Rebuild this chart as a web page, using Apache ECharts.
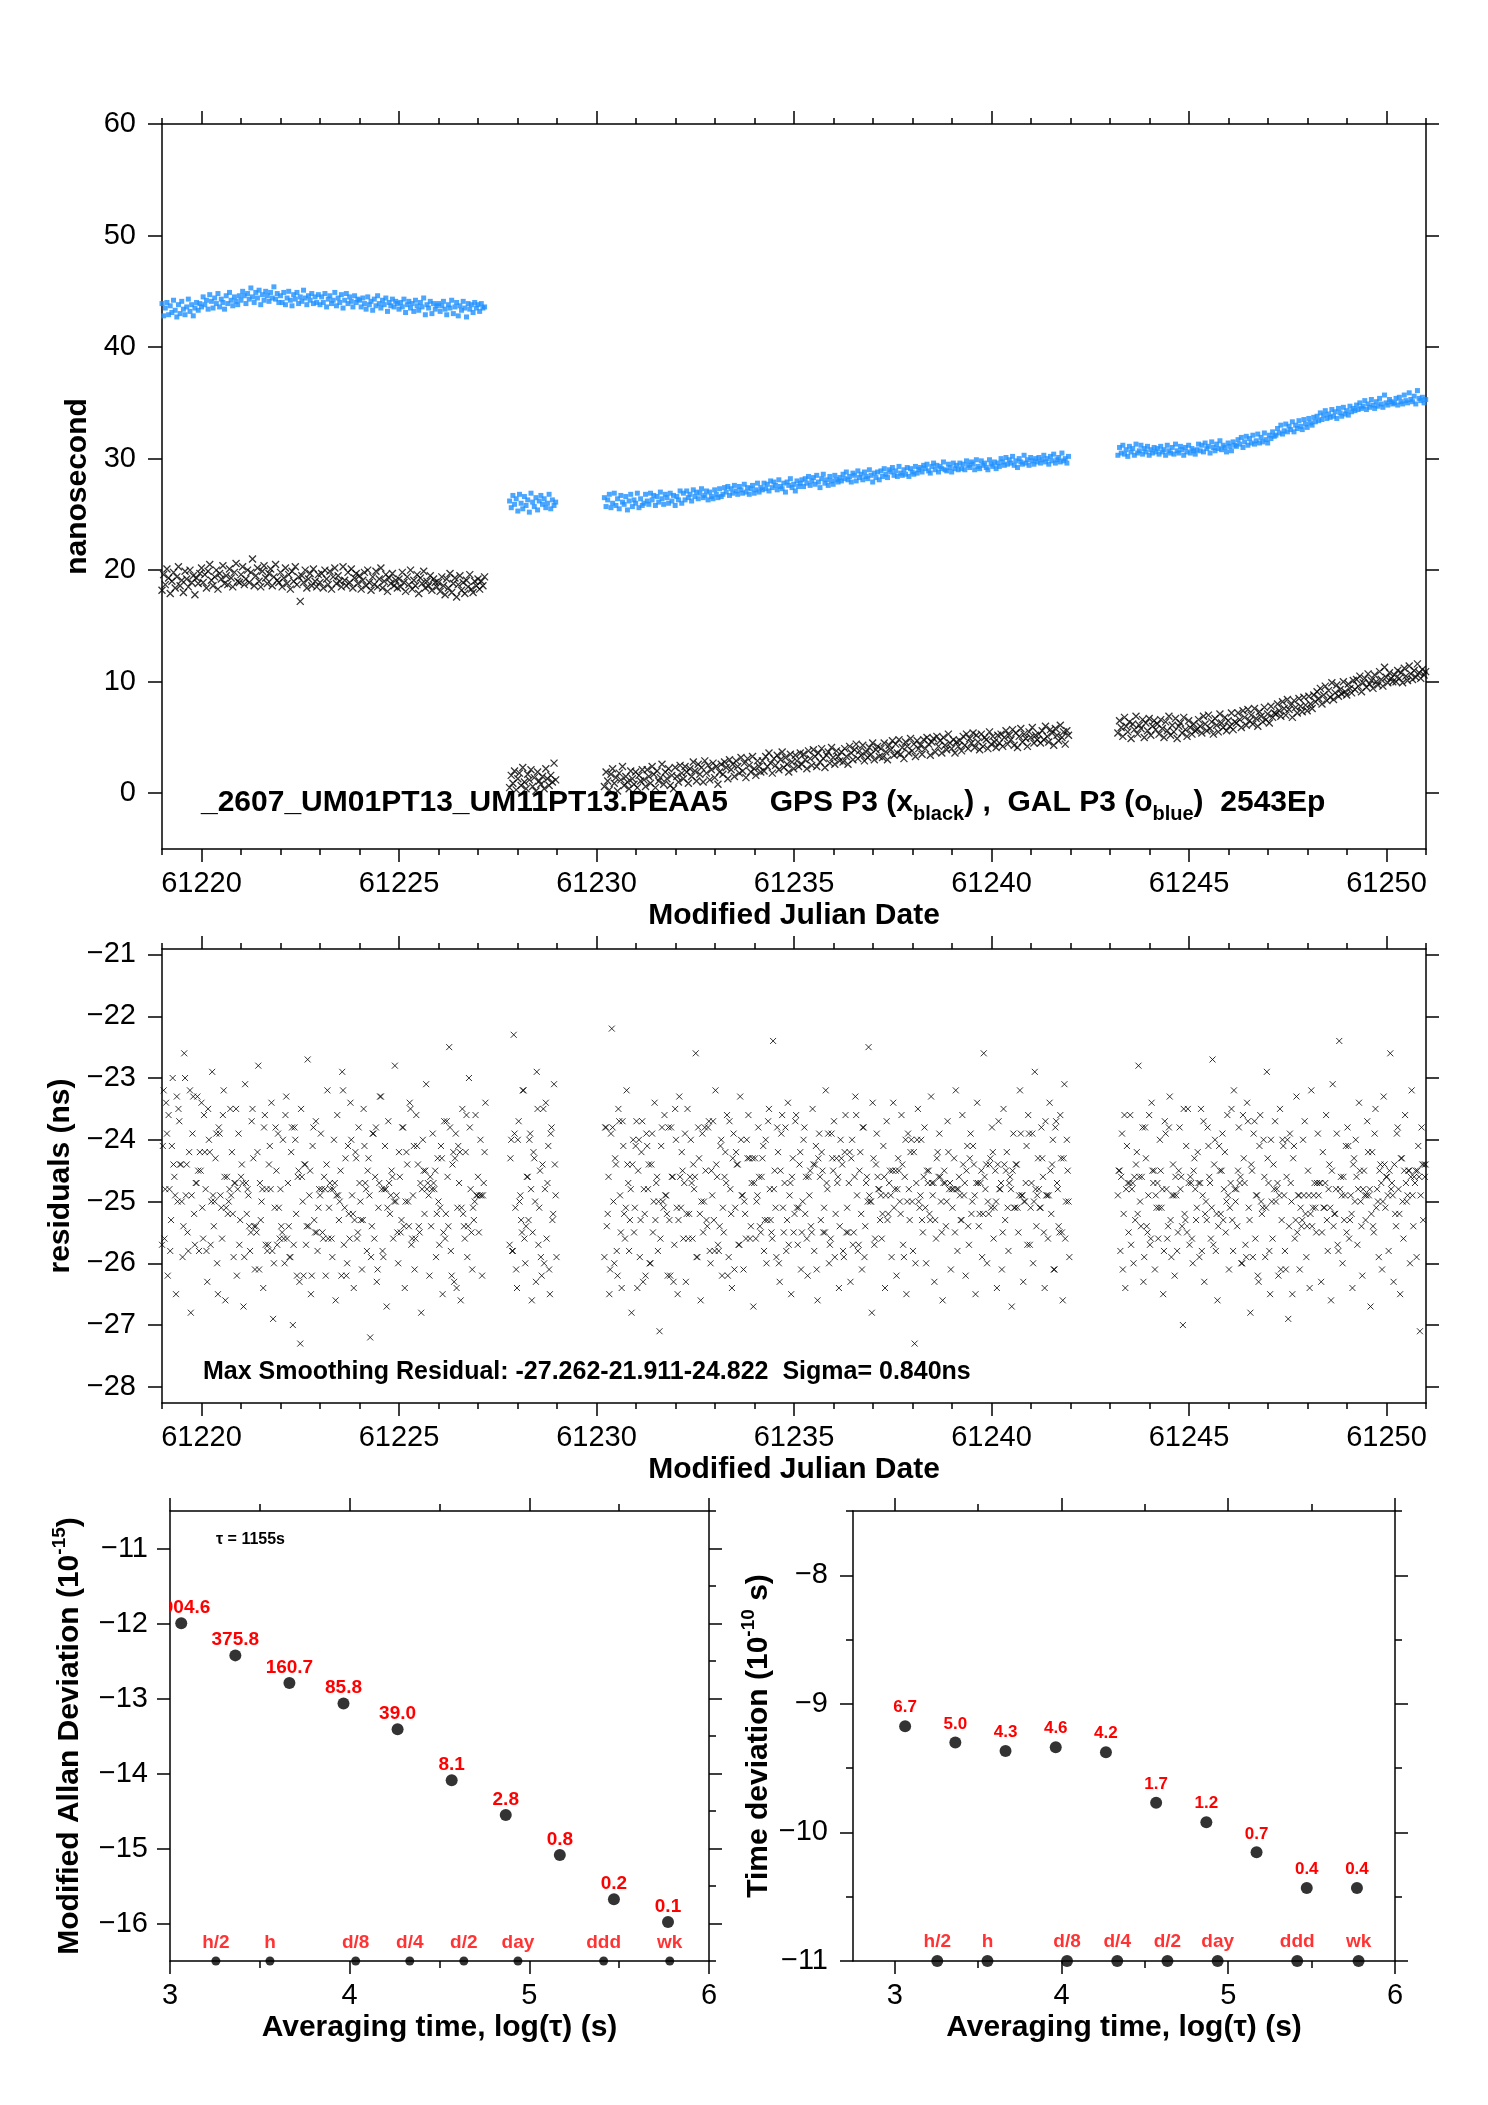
<!DOCTYPE html>
<html>
<head>
<meta charset="utf-8">
<title>GPS P3 / GAL P3 2543Ep</title>
<script src="https://cdn.jsdelivr.net/npm/echarts@6.0.0/dist/echarts.min.js"></script>
<style>
  html, body { margin: 0; padding: 0; background: #fff; }
  #main { width: 1488px; height: 2105px; }
</style>
</head>
<body>
<div id="main"></div>
<script>
// one epoch per hour inside each tracking segment
var STEP = 1 / 24;
var segStart = [61219.0, 61227.8, 61230.2, 61243.2];

// GPS P3 (x black), nanosecond
var gpsSeg1 = [
  18.2,19.6,18.7,20.1,19.3,17.9,19.0,19.8,18.4,19.4,20.3,18.6,19.1,18.0,19.9,19.2,18.5,20.0,18.9,19.5,17.8,19.3,18.8,19.7,
  20.2,18.9,19.6,18.4,19.9,20.5,19.1,18.6,19.4,20.0,18.3,19.7,19.2,20.4,18.8,19.5,18.7,20.1,19.3,18.5,19.8,20.6,19.0,18.9,
  19.6,20.3,18.7,19.2,20.0,18.9,19.8,21.0,18.6,19.5,20.2,19.0,18.5,19.9,20.4,19.3,18.8,19.7,20.1,18.6,19.4,20.5,19.1,18.9,
  19.8,18.5,19.3,20.2,18.8,19.6,18.3,19.9,19.0,20.3,18.7,19.4,17.2,19.5,18.9,20.0,18.4,19.2,19.7,18.6,20.1,19.0,18.5,19.6,
  18.9,19.7,18.4,20.0,19.2,18.7,19.9,18.3,19.4,20.2,18.8,19.5,19.0,18.5,20.3,19.1,18.6,19.8,18.9,20.1,18.4,19.3,19.7,18.8,
  19.5,18.3,19.1,19.8,18.6,20.0,18.9,18.2,19.4,18.7,19.9,18.5,19.2,20.2,18.4,19.0,19.6,18.1,19.3,18.8,19.7,18.6,19.1,18.4,
  19.2,18.5,19.8,18.9,18.1,19.4,18.7,20.0,18.3,19.1,18.6,19.6,17.9,19.3,18.8,19.9,18.4,19.0,18.6,19.5,18.2,19.2,18.9,18.5,
  18.9,18.1,19.4,18.6,17.8,19.2,18.4,19.7,18.0,18.8,19.3,17.6,18.7,19.5,18.2,18.9,17.9,19.1,18.5,19.6,18.3,18.0,19.0,18.6,
  19.2,18.3,19.0,18.6,19.4
];
var gpsSeg2 = [
  0.5,1.6,0.9,2.0,0.3,1.3,1.8,0.7,2.3,1.0,0.4,1.7,1.2,2.1,0.6,1.4,0.2,1.9,1.1,0.8,1.5,0.4,2.2,1.3,0.7,1.6,1.0,2.7,1.2
];
var gpsSeg3 = [
  0.6,1.9,1.1,0.3,1.7,2.2,0.9,1.4,0.2,1.8,1.2,2.4,0.7,1.5,1.0,0.4,2.0,1.3,0.8,1.9,0.5,1.6,1.1,2.1,
  1.2,0.6,2.1,1.5,0.9,2.4,1.7,0.5,2.0,1.1,1.4,2.6,0.8,1.9,1.3,2.2,0.7,1.6,0.4,2.3,1.5,1.0,2.5,1.8,
  1.3,2.4,1.9,0.9,2.2,1.5,2.8,2.0,1.1,2.6,1.7,2.3,1.0,2.9,1.8,2.5,1.2,2.1,2.7,1.4,2.4,0.8,1.9,2.6,
  1.7,2.8,2.3,1.3,3.0,2.1,2.6,1.5,2.9,2.4,1.8,3.2,2.0,2.7,1.4,3.1,2.5,1.9,3.3,2.2,1.6,2.9,2.4,1.9,
  2.9,2.0,3.3,2.4,3.6,2.7,1.8,3.1,2.5,3.4,2.1,3.0,3.7,2.3,3.2,2.6,1.9,3.5,2.8,2.2,3.4,2.9,2.4,3.6,
  2.6,3.5,3.0,2.2,3.8,3.1,2.5,3.9,3.3,2.4,3.6,2.8,4.0,3.1,2.3,3.4,3.7,2.7,4.1,3.2,2.6,3.8,3.3,2.9,
  3.7,2.8,4.0,3.3,2.6,4.2,3.6,3.0,3.9,4.4,3.1,3.8,3.4,4.3,2.9,3.7,3.2,4.1,3.5,4.5,3.0,3.9,4.2,3.3,
  4.0,3.2,4.5,3.7,3.0,4.3,3.9,4.7,3.4,4.4,3.6,4.8,3.5,4.1,3.1,4.6,4.2,3.6,4.9,3.8,4.4,3.3,4.7,4.0,
  4.3,3.5,4.8,4.0,5.0,4.4,3.4,4.6,4.9,3.7,5.1,4.2,4.7,3.6,5.0,4.3,3.9,5.3,4.5,4.0,4.8,3.6,4.6,4.2,
  4.7,3.8,5.1,4.3,5.3,4.0,4.9,4.5,5.4,4.1,5.2,4.6,3.9,5.3,4.2,5.0,4.8,4.0,5.5,4.4,5.1,4.6,4.1,5.2,
  4.5,5.3,4.2,5.0,5.6,4.4,5.2,4.8,5.7,4.3,5.4,4.1,5.1,5.8,4.6,5.3,4.9,4.2,5.5,5.0,5.9,4.5,5.2,4.8,
  5.3,4.5,5.6,4.8,6.0,5.1,4.6,5.7,5.4,4.3,5.8,5.2,4.7,6.1,5.0,5.5,4.4,5.6,5.2
];
var gpsSeg4 = [
  5.4,6.5,5.9,5.1,6.8,6.0,5.5,6.4,4.9,6.2,5.7,6.9,5.3,6.1,5.8,6.6,5.0,6.3,5.6,6.7,5.2,6.0,6.5,5.7,
  6.2,5.3,6.6,5.8,5.0,6.4,5.6,6.9,5.2,6.1,5.5,6.7,4.9,6.0,6.3,5.4,6.8,5.7,5.1,6.5,5.9,5.3,6.2,5.6,
  5.7,6.6,6.0,5.4,6.9,6.2,5.6,7.0,5.8,6.4,5.3,6.7,6.1,5.5,7.1,6.3,5.9,6.8,5.6,6.5,6.0,7.2,5.7,6.4,
  6.3,7.2,6.6,5.9,7.4,6.8,6.1,7.5,6.5,7.0,6.2,7.6,6.7,6.0,7.3,6.9,6.4,7.7,6.6,7.1,6.3,7.8,6.8,7.2,
  7.1,8.0,7.4,6.9,8.2,7.6,7.0,8.4,7.5,7.9,6.8,8.3,7.7,7.2,8.5,7.8,7.3,8.6,7.9,7.4,8.7,8.0,7.6,8.8,
  8.2,9.1,8.5,9.4,8.0,8.8,9.6,8.3,9.2,8.6,9.9,8.4,9.0,9.7,8.7,9.3,8.9,10.0,9.1,8.8,9.8,9.4,9.0,10.1,
  9.3,10.2,9.6,10.5,9.1,9.9,10.3,9.5,10.7,9.8,10.1,9.4,10.6,10.0,9.7,10.9,10.2,9.6,11.3,10.4,9.9,10.8,10.3,10.0,
  10.6,10.0,11.0,10.3,10.8,9.9,11.2,10.5,10.1,11.4,10.7,10.2,11.0,10.4,11.6,10.8,10.3,11.1,10.6,10.9
];

// GAL P3 (o blue), nanosecond
var galSeg1 = [
  43.9,42.8,43.5,44.0,42.9,43.7,43.1,44.2,43.3,42.7,43.8,43.0,44.1,43.4,42.9,43.6,44.3,43.2,43.8,42.8,43.5,44.0,43.3,43.9,
  43.6,44.5,43.8,44.2,43.4,44.7,44.1,43.5,44.4,43.9,44.8,43.6,44.3,44.0,43.4,44.6,43.9,44.9,44.2,43.7,44.5,44.1,43.8,44.6,
  44.2,45.0,44.6,43.9,44.8,44.3,45.3,44.5,44.0,44.9,44.4,45.1,43.8,44.7,44.2,45.0,44.6,44.1,44.9,44.4,45.4,44.3,44.8,44.0,
  44.6,44.0,44.9,43.8,44.4,45.0,44.2,43.7,44.7,44.3,44.9,43.9,44.5,44.1,45.1,44.4,43.8,44.6,44.2,44.8,43.9,44.5,44.0,44.7,
  43.8,44.5,44.0,44.8,43.6,44.3,44.6,43.9,44.2,44.9,43.7,44.4,44.0,44.7,43.5,44.2,44.8,43.9,44.5,44.1,43.6,44.6,44.0,44.3,
  44.2,43.6,44.4,43.9,43.4,44.5,43.8,44.1,43.3,44.3,43.7,44.6,43.9,43.5,44.2,43.8,44.4,43.2,44.0,43.7,44.3,43.6,44.1,43.9,
  43.4,44.0,43.6,44.3,43.1,43.8,44.1,43.5,43.9,43.2,44.2,43.7,43.3,44.0,43.6,44.4,42.9,43.8,43.5,44.1,43.0,43.9,43.4,43.7,
  43.9,43.2,43.7,44.1,43.4,42.9,43.8,43.5,44.2,43.0,43.6,44.0,42.8,43.7,43.3,44.1,43.5,42.7,43.9,43.4,43.8,43.1,44.0,43.5,
  43.8,43.2,43.9,43.5,43.6
];
var galSeg2 = [
  26.2,25.6,26.7,25.9,26.4,25.3,26.8,26.0,25.5,26.6,25.8,26.3,25.2,26.9,26.1,25.7,26.5,25.4,26.2,26.7,25.9,26.4,25.6,26.0,26.8,25.5,26.3,25.8,26.1
];
var galSeg3 = [
  26.5,25.7,26.3,26.8,25.6,26.0,26.9,25.8,26.4,25.5,26.7,26.1,25.9,26.6,25.4,26.2,26.8,25.7,26.3,26.0,26.9,25.6,26.4,25.8,
  26.0,26.8,26.2,25.9,26.9,26.3,26.7,25.8,26.6,26.1,27.0,26.4,25.9,26.8,26.5,26.0,26.9,26.2,26.7,25.8,26.6,26.3,27.1,26.0,
  26.9,26.3,27.1,26.5,26.8,26.2,27.2,26.6,27.0,26.4,26.9,27.3,26.5,26.7,27.1,26.3,27.0,26.6,26.4,27.2,26.8,26.5,27.3,26.6,
  26.8,27.4,27.0,27.5,26.7,27.3,26.9,27.6,27.1,26.8,27.5,27.2,26.9,27.7,27.0,27.4,26.8,27.3,27.6,26.9,27.2,27.8,27.0,27.4,
  27.2,27.8,27.3,27.7,27.1,28.0,27.4,27.9,27.6,27.2,28.1,27.5,27.3,27.8,27.0,27.9,27.6,28.2,27.4,27.7,27.1,28.0,27.5,27.8,
  28.1,27.5,28.2,27.8,28.4,27.6,28.0,28.3,27.7,28.5,27.9,27.4,28.2,28.6,27.8,28.1,27.6,28.4,28.0,27.7,28.5,28.1,27.9,28.3,
  28.0,28.6,28.2,28.8,28.1,28.4,27.9,28.7,28.5,28.0,28.9,28.3,28.6,28.1,28.8,28.4,28.2,29.0,28.5,27.9,28.7,28.3,28.8,28.1,
  28.9,28.4,29.1,28.6,28.3,29.0,28.8,29.2,28.5,28.9,28.4,29.3,28.7,28.5,29.0,28.6,29.2,28.4,29.1,28.8,28.6,29.3,28.7,29.0,
  29.2,28.8,29.4,29.1,29.5,28.9,28.7,29.3,29.6,29.0,29.4,28.8,29.3,29.1,29.7,29.0,28.9,29.5,29.2,28.8,29.6,29.1,29.4,29.0,
  29.6,29.1,29.5,29.0,29.8,29.4,29.2,29.7,29.5,29.0,29.9,29.3,29.1,29.8,29.4,29.6,29.2,29.0,29.9,29.5,29.3,29.7,29.1,29.6,
  29.3,30.0,29.7,29.4,30.1,29.5,29.9,29.6,30.2,29.4,29.8,29.2,30.0,29.7,29.5,30.3,29.6,29.9,29.4,30.1,29.8,29.5,30.0,29.7,
  30.1,29.6,29.9,30.3,29.7,30.0,29.5,30.2,29.8,30.4,29.6,29.9,30.1,29.7,30.5,29.8,30.0,29.6,30.2
];
var galSeg4 = [
  30.3,31.0,30.5,31.2,30.4,30.8,30.2,31.1,30.6,30.9,30.3,31.3,30.5,30.7,31.2,30.4,30.9,30.6,31.1,30.3,30.8,30.5,31.0,30.6,
  30.9,30.4,31.1,30.6,30.8,30.3,31.2,30.7,30.5,31.0,30.4,31.3,30.7,30.5,31.1,30.8,30.3,31.0,30.6,31.2,30.5,30.9,30.7,30.4,
  30.8,31.3,30.7,31.2,30.6,31.4,30.9,31.1,30.5,31.5,31.0,30.7,31.3,30.9,31.6,30.8,31.2,31.0,30.6,31.4,31.1,30.7,31.5,31.2,
  31.1,31.7,31.3,31.9,31.0,31.5,32.0,31.2,31.8,31.4,32.1,31.3,31.6,32.2,31.4,31.9,31.5,32.3,31.7,31.4,32.1,31.8,32.4,32.0,
  32.1,32.7,32.3,33.0,32.2,32.5,33.1,32.4,32.9,32.6,33.3,32.4,33.0,32.7,33.4,32.9,32.6,33.5,33.1,32.8,33.6,33.2,33.0,33.7,
  33.3,33.8,33.4,34.1,33.5,33.9,34.3,33.6,34.0,33.7,34.4,33.8,34.2,33.6,34.5,34.1,33.8,34.6,34.0,34.3,33.9,34.7,34.2,34.5,
  34.3,34.8,34.4,35.0,34.5,34.7,35.2,34.4,34.9,34.6,35.3,34.8,34.5,35.1,34.7,35.4,34.9,34.6,35.7,35.0,34.8,35.3,35.1,34.9,
  35.0,35.4,34.8,35.5,35.1,34.9,35.7,35.2,35.0,35.9,35.3,35.1,35.6,34.9,36.1,35.4,35.2,35.5,35.0,35.3
];

// smoothing residuals at the half-hour epochs between the hourly points (ns)
var resMid1 = [
  -24.1,-25.6,-23.4,-26.2,-24.8,-25.3,-23.0,-24.6,-26.5,-25.0,-23.7,-24.4,-25.9,-22.6,-24.9,-25.5,-24.2,-26.8,-23.9,-25.2,-24.7,-23.3,-25.8,-24.5,
  -25.1,-23.6,-24.8,-26.3,-24.0,-25.7,-22.9,-25.4,-24.3,-26.0,-23.8,-24.9,-25.6,-23.2,-26.6,-24.6,-25.0,-23.5,-24.2,-25.9,-24.7,-26.2,-23.9,-25.3,
  -24.4,-26.7,-23.1,-25.2,-24.9,-25.8,-23.7,-24.3,-26.1,-25.5,-22.8,-24.7,-25.0,-26.4,-23.6,-24.8,-25.7,-24.1,-23.4,-26.9,-25.1,-24.5,-23.9,-25.6,
  -25.4,-24.0,-26.0,-23.3,-24.7,-25.9,-24.2,-27.0,-23.8,-25.2,-24.6,-26.3,-23.5,-25.0,-24.4,-25.7,-22.7,-24.9,-26.5,-24.1,-25.3,-23.7,-25.8,-24.8,
  -23.9,-25.5,-24.6,-26.2,-23.2,-25.1,-24.8,-25.9,-24.0,-26.6,-23.6,-25.3,-24.5,-22.9,-25.7,-24.3,-26.0,-25.2,-23.4,-24.9,-26.4,-24.2,-25.6,-23.8,
  -25.0,-26.1,-23.5,-24.7,-25.8,-24.3,-27.2,-25.4,-23.9,-24.6,-26.3,-25.1,-23.3,-24.8,-25.9,-24.1,-26.7,-23.7,-25.2,-24.5,-25.6,-22.8,-24.9,-26.0,
  -24.6,-25.3,-23.8,-26.4,-24.2,-25.0,-23.4,-25.7,-24.9,-26.1,-23.6,-24.4,-25.5,-26.8,-24.0,-25.2,-23.1,-24.7,-26.2,-25.4,-23.9,-24.8,-25.9,-24.3,
  -25.7,-24.1,-26.5,-23.7,-25.2,-24.6,-22.5,-25.8,-24.4,-26.3,-23.9,-25.1,-24.7,-26.6,-23.5,-25.4,-24.2,-25.9,-23.0,-24.8,-26.1,-25.3,-23.6,-24.9,
  -25.5,-24.0,-26.2,-24.7,-23.4
];
var resMid2 = [
  -24.3,-25.8,-22.3,-25.1,-26.4,-23.7,-24.9,-25.5,-23.2,-26.0,-24.6,-25.3,-23.9,-26.6,-24.2,-25.0,-22.9,-25.7,-24.5,-26.2,-23.5,-24.8,-25.6,-24.1,-26.5,-23.8,-25.2,-24.4,-25.9
];
var resMid3 = [
  -23.8,-25.4,-24.6,-26.1,-22.2,-25.0,-24.3,-25.8,-23.5,-24.9,-26.4,-24.1,-25.6,-23.2,-24.7,-25.3,-26.8,-24.0,-25.1,-23.7,-24.5,-25.9,-24.2,-26.3,
  -25.2,-23.9,-24.8,-26.0,-24.4,-25.5,-23.4,-24.7,-25.8,-27.1,-24.1,-25.0,-23.6,-24.9,-26.2,-25.3,-23.8,-24.6,-25.7,-24.0,-26.5,-23.3,-25.1,-24.5,
  -24.7,-26.3,-23.5,-25.2,-24.0,-25.6,-24.8,-22.6,-25.9,-24.3,-26.6,-23.9,-25.0,-24.5,-25.4,-23.7,-26.0,-24.9,-25.3,-23.2,-24.6,-25.8,-24.1,-26.2,
  -25.5,-24.2,-23.6,-25.9,-24.8,-26.4,-23.9,-25.1,-24.4,-25.7,-23.3,-24.9,-26.1,-25.2,-24.0,-23.6,-25.6,-24.7,-26.7,-24.3,-25.0,-23.8,-25.4,-24.6,
  -24.1,-25.3,-26.0,-23.7,-24.8,-25.5,-22.4,-24.5,-25.9,-24.2,-26.3,-23.9,-25.1,-24.7,-25.8,-23.4,-24.9,-26.5,-24.3,-25.2,-23.6,-25.7,-24.4,-26.1,
  -25.0,-23.8,-24.6,-26.2,-24.9,-25.4,-23.5,-25.8,-24.1,-26.6,-23.9,-25.3,-24.5,-25.1,-23.2,-24.8,-26.0,-25.6,-24.3,-23.7,-25.2,-24.7,-26.4,-24.0,
  -24.4,-25.9,-23.6,-25.1,-24.7,-26.3,-24.0,-25.5,-23.3,-24.9,-25.7,-24.2,-26.1,-23.8,-25.4,-24.6,-22.5,-25.0,-26.8,-24.3,-25.6,-23.9,-24.8,-25.3,
  -25.6,-24.1,-26.4,-23.7,-25.2,-24.5,-25.9,-23.4,-24.8,-26.2,-24.3,-25.0,-23.6,-25.7,-24.6,-26.5,-23.9,-25.3,-24.0,-25.8,-27.3,-24.7,-23.5,-25.1,
  -24.0,-25.5,-23.8,-26.0,-24.7,-25.2,-23.3,-24.9,-26.3,-25.6,-24.2,-23.9,-25.0,-26.6,-24.5,-25.4,-23.7,-24.8,-26.1,-25.1,-24.3,-23.2,-25.8,-24.6,
  -25.3,-23.6,-24.9,-26.2,-24.1,-25.7,-23.9,-25.0,-24.4,-26.5,-23.4,-25.4,-24.7,-25.9,-22.6,-24.8,-26.0,-25.2,-24.3,-23.8,-25.6,-24.5,-26.4,-23.7,
  -24.8,-26.1,-23.5,-25.3,-24.2,-25.8,-24.6,-26.7,-23.9,-25.1,-24.4,-25.5,-23.2,-24.9,-26.3,-25.0,-24.1,-23.6,-25.7,-24.7,-26.0,-22.9,-25.4,-24.3,
  -25.1,-23.8,-24.6,-26.4,-24.9,-25.6,-23.4,-25.2,-24.0,-26.1,-23.7,-24.8,-25.5,-24.3,-26.6,-23.1,-25.0,-24.5,-25.9
];
var resMid4 = [
  -24.5,-25.8,-23.9,-25.2,-26.4,-24.1,-25.5,-23.6,-24.8,-26.0,-25.3,-24.2,-22.8,-25.0,-24.6,-26.3,-23.8,-25.4,-24.9,-25.7,-23.4,-24.7,-26.1,-25.1,
  -25.6,-24.0,-25.1,-26.5,-23.7,-24.8,-25.4,-23.3,-25.9,-24.4,-26.2,-24.9,-25.5,-23.8,-24.6,-27.0,-25.2,-24.1,-23.5,-25.7,-24.7,-26.0,-24.3,-25.3,
  -24.2,-25.9,-23.5,-24.9,-26.3,-25.0,-23.8,-24.6,-25.6,-22.7,-24.4,-25.8,-26.6,-24.1,-25.2,-23.9,-24.8,-25.5,-23.6,-26.1,-24.7,-25.3,-23.2,-25.0,
  -25.4,-23.8,-24.6,-26.0,-24.3,-25.7,-23.4,-25.1,-26.8,-24.5,-23.9,-25.6,-24.9,-26.3,-23.6,-25.2,-24.0,-25.9,-22.9,-24.7,-26.5,-25.0,-24.4,-23.7,
  -24.8,-26.2,-23.5,-25.3,-24.1,-25.8,-24.6,-26.9,-23.9,-25.0,-24.3,-25.6,-23.3,-24.9,-26.1,-25.4,-24.0,-23.7,-25.9,-24.5,-26.4,-23.2,-25.1,-24.7,
  -25.5,-23.9,-24.7,-26.3,-24.2,-25.1,-23.6,-25.8,-24.4,-26.6,-23.1,-25.2,-24.8,-25.7,-22.4,-24.6,-26.0,-25.3,-24.1,-23.8,-25.6,-24.9,-26.4,-24.3,
  -24.0,-25.7,-23.4,-25.0,-26.2,-24.5,-25.3,-23.7,-24.9,-26.7,-24.2,-25.5,-23.5,-24.8,-25.9,-24.4,-26.1,-23.3,-25.1,-24.6,-25.8,-22.6,-24.7,-26.3,
  -25.2,-23.9,-24.8,-26.5,-24.3,-25.6,-23.6,-25.0,-24.5,-26.0,-23.2,-25.4,-24.7,-25.9,-24.1,-27.1,-23.8,-25.3,-24.6,-25.7
];

// smoothing residual summary printed on the middle panel
var maxResidual = [-27.262, -21.911, -24.822];
var sigmaNs = 0.840;

// stability: averaging times (s), MDEV (1e-15), TDEV (1e-10 s)
var tauSec = [1155, 2310, 4620, 9240, 18480, 36960, 73920, 147840, 295680, 591360];
var madev = [1004.6, 375.8, 160.7, 85.8, 39.0, 8.1, 2.8, 0.82, 0.21, 0.105];
var tdev = [6.7, 5.0, 4.3, 4.6, 4.2, 1.7, 1.2, 0.7, 0.37, 0.37];
var markSec = [1800, 3600, 10800, 21600, 43200, 86400, 259200, 604800];
var markName = ["h/2", "h", "d/8", "d/4", "d/2", "day", "ddd", "wk"];

// tick labels
var mjdTicks = [61220, 61225, 61230, 61235, 61240, 61245, 61250];
var nsTicks = [0, 10, 20, 30, 40, 50, 60];
var resTicks = [-28, -27, -26, -25, -24, -23, -22, -21];
var logTauTicks = [3, 4, 5, 6];
var madevTicks = [-16, -15, -14, -13, -12, -11];
var tdevTicks = [-11, -10, -9, -8];

var BLACK = "#000";
var RED = "#ff0000";
var FONT = "Liberation Sans";
var axisLine = { color: BLACK, width: 1.5 };

function steps(a, b, s) {
  var out = [];
  for (var v = a; v <= b + 1e-9; v += s) out.push(Math.round(v * 100) / 100);
  return out;
}

function minus(v) {
  return String(v).replace("-", "\u2212");
}

function tickAxis(o) {
  var ax = {
    type: "value",
    gridIndex: o.grid,
    position: o.pos,
    min: o.min,
    max: o.max,
    splitLine: { show: false },
    axisLine: { show: !!o.line, onZero: false, lineStyle: axisLine },
    axisTick: { show: true, inside: false, length: o.len, customValues: o.ticks, lineStyle: axisLine },
    axisLabel: { show: false }
  };
  if (o.labels) {
    ax.axisLabel = {
      show: true, customValues: o.ticks, margin: o.margin, color: BLACK,
      fontFamily: FONT, fontSize: 29, formatter: minus
    };
  }
  if (o.name) {
    ax.name = o.name;
    ax.nameLocation = "middle";
    ax.nameGap = o.nameGap;
    ax.nameTextStyle = {
      color: BLACK, fontFamily: FONT, fontSize: 30, fontWeight: "bold",
      rich: {
        b: { fontFamily: FONT, fontSize: 30, fontWeight: "bold", color: BLACK, lineHeight: 40 },
        sup: { fontFamily: FONT, fontSize: 19, fontWeight: "bold", color: BLACK, verticalAlign: "top", lineHeight: 20 }
      }
    };
  }
  return ax;
}

// time series points
var gpsSegs = [gpsSeg1, gpsSeg2, gpsSeg3, gpsSeg4];
var galSegs = [galSeg1, galSeg2, galSeg3, galSeg4];
var midSegs = [resMid1, resMid2, resMid3, resMid4];
var gpsPts = [], galPts = [], resPts = [];
for (var s = 0; s < gpsSegs.length; s++) {
  for (var i = 0; i < gpsSegs[s].length; i++) {
    var t = segStart[s] + i * STEP;
    gpsPts.push([t, gpsSegs[s][i]]);
    galPts.push([t, galSegs[s][i]]);
    resPts.push([t, +(gpsSegs[s][i] - galSegs[s][i]).toFixed(2)]);
  }
  for (var j = 0; j < midSegs[s].length; j++) {
    resPts.push([segStart[s] + (j + 0.5) * STEP, midSegs[s][j]]);
  }
}

var madevPts = tauSec.map(function (t, k) { return [Math.log10(t), Math.log10(madev[k]) - 15]; });
var tdevPts = tauSec.map(function (t, k) { return [Math.log10(t), Math.log10(tdev[k]) - 10]; });
var madevTxt = madev.map(function (v) { return v.toFixed(1); });
var tdevTxt = tdev.map(function (v) { return v.toFixed(1); });

var mjdMin = 61219, mjdMax = 61251;
var resMin = maxResidual[0] - 1, resMax = maxResidual[1] + 1;
var mjdMinor = steps(mjdMin, mjdMax, 1);
var tauMinor = steps(3, 6, 0.5);

var xAxes = [];
var yAxes = [];
// grid 0 / grid 1: MJD panels
[0, 1].forEach(function (g) {
  xAxes.push(tickAxis({ grid: g, pos: "bottom", min: mjdMin, max: mjdMax, ticks: mjdTicks, len: 13, line: true,
    labels: true, margin: 20, name: "Modified Julian Date", nameGap: 52 }));
  xAxes.push(tickAxis({ grid: g, pos: "bottom", min: mjdMin, max: mjdMax, ticks: mjdMinor, len: 6 }));
  xAxes.push(tickAxis({ grid: g, pos: "top", min: mjdMin, max: mjdMax, ticks: mjdTicks, len: 13, line: true }));
  xAxes.push(tickAxis({ grid: g, pos: "top", min: mjdMin, max: mjdMax, ticks: mjdMinor, len: 6 }));
});
yAxes.push(tickAxis({ grid: 0, pos: "left", min: -5, max: 60, ticks: nsTicks, len: 14, line: true,
  labels: true, margin: 26, name: "nanosecond", nameGap: 62 }));
yAxes.push(tickAxis({ grid: 0, pos: "right", min: -5, max: 60, ticks: nsTicks, len: 13, line: true }));
yAxes.push(tickAxis({ grid: 1, pos: "left", min: resMin, max: resMax, ticks: resTicks, len: 14, line: true,
  labels: true, margin: 26, name: "residuals (ns)", nameGap: 79 }));
yAxes.push(tickAxis({ grid: 1, pos: "right", min: resMin, max: resMax, ticks: resTicks, len: 13, line: true }));

// grid 2 / grid 3: stability panels
[[2, 3], [3, 2.75]].forEach(function (p) {
  var g = p[0], lo = p[1];
  xAxes.push(tickAxis({ grid: g, pos: "bottom", min: lo, max: 6, ticks: logTauTicks, len: 13, line: true,
    labels: true, margin: 20, name: "Averaging time, log(\u03c4) (s)", nameGap: 52 }));
  xAxes.push(tickAxis({ grid: g, pos: "bottom", min: lo, max: 6, ticks: tauMinor, len: 7 }));
  xAxes.push(tickAxis({ grid: g, pos: "top", min: lo, max: 6, ticks: logTauTicks, len: 13, line: true }));
  xAxes.push(tickAxis({ grid: g, pos: "top", min: lo, max: 6, ticks: tauMinor, len: 7 }));
});
yAxes.push(tickAxis({ grid: 2, pos: "left", min: -16.5, max: -10.5, ticks: madevTicks, len: 13, line: true,
  labels: true, margin: 22, name: "{b|Modified Allan Deviation (10}{sup|-15}{b|)}", nameGap: 80 }));
yAxes.push(tickAxis({ grid: 2, pos: "right", min: -16.5, max: -10.5, ticks: madevTicks, len: 13, line: true }));
yAxes.push(tickAxis({ grid: 2, pos: "right", min: -16.5, max: -10.5, ticks: steps(-16.5, -10.5, 0.5), len: 7 }));
yAxes.push(tickAxis({ grid: 3, pos: "left", min: -11, max: -7.5, ticks: tdevTicks, len: 13, line: true,
  labels: true, margin: 25, name: "{b|Time deviation (10}{sup|-10}{b| s)}", nameGap: 74 }));
yAxes.push(tickAxis({ grid: 3, pos: "left", min: -11, max: -7.5, ticks: steps(-11, -7.5, 0.5), len: 7 }));
yAxes.push(tickAxis({ grid: 3, pos: "right", min: -11, max: -7.5, ticks: tdevTicks, len: 13, line: true }));
yAxes.push(tickAxis({ grid: 3, pos: "right", min: -11, max: -7.5, ticks: steps(-11, -7.5, 0.5), len: 7 }));

function valueLabels(xi, yi, pts, texts, size, gap) {
  return {
    type: "custom", xAxisIndex: xi, yAxisIndex: yi, data: pts, z: 4, silent: true,
    renderItem: function (params, api) {
      var p = api.coord([api.value(0), api.value(1)]);
      var cs = params.coordSys;
      return {
        type: "group",
        clipPath: { type: "rect", shape: { x: cs.x, y: cs.y, width: cs.width, height: cs.height } },
        children: [{
          type: "text", x: p[0], y: p[1] - gap,
          style: { text: texts[params.dataIndex], fill: RED, font: "bold " + size + "px " + FONT,
            align: "center", verticalAlign: "bottom" }
        }]
      };
    }
  };
}

function markers(xi, yi, yv, size) {
  return {
    type: "scatter", xAxisIndex: xi, yAxisIndex: yi, symbol: "circle", symbolSize: size, silent: true,
    itemStyle: { color: BLACK },
    data: markSec.map(function (t) { return [Math.log10(t), yv]; }),
    label: {
      show: true, position: "top", distance: 4, color: RED, fontFamily: FONT, fontWeight: "bold", fontSize: 19,
      formatter: function (p) { return markName[p.dataIndex]; }
    }
  };
}

var crossSymbol = "path://M0 0L10 10M10 0L0 10";

var option = {
  animation: false,
  backgroundColor: "#fff",
  grid: [
    { left: 162, top: 124, width: 1264, height: 725 },
    { left: 162, top: 949, width: 1264, height: 454 },
    { left: 170, top: 1511, width: 539, height: 450 },
    { left: 853, top: 1511, width: 542, height: 450 }
  ],
  xAxis: xAxes,
  yAxis: yAxes,
  series: [
    {
      name: "GPS P3", type: "scatter", xAxisIndex: 0, yAxisIndex: 0, data: gpsPts, silent: true,
      symbol: crossSymbol, symbolSize: 7,
      itemStyle: { color: "rgba(0,0,0,0)", borderColor: BLACK, borderWidth: 1.3 }
    },
    {
      name: "GAL P3", type: "scatter", xAxisIndex: 0, yAxisIndex: 0, data: galPts, silent: true,
      symbol: "rect", symbolSize: 5, itemStyle: { color: "#1e90ff" }
    },
    {
      name: "residuals", type: "scatter", xAxisIndex: 4, yAxisIndex: 2, data: resPts, silent: true,
      symbol: crossSymbol, symbolSize: 6,
      itemStyle: { color: "rgba(0,0,0,0)", borderColor: BLACK, borderWidth: 1 }
    },
    {
      name: "MDEV", type: "scatter", xAxisIndex: 8, yAxisIndex: 4, data: madevPts, silent: true,
      symbol: "circle", symbolSize: 12, itemStyle: { color: BLACK }
    },
    valueLabels(8, 4, madevPts, madevTxt, 19, 6),
    markers(8, 4, -16.5, 9),
    {
      name: "TDEV", type: "scatter", xAxisIndex: 12, yAxisIndex: 7, data: tdevPts, silent: true,
      symbol: "circle", symbolSize: 12, itemStyle: { color: BLACK }
    },
    valueLabels(12, 7, tdevPts, tdevTxt, 17, 10),
    markers(12, 7, -11, 12)
  ],
  graphic: [
    {
      type: "text", x: 201, y: 803, silent: true,
      style: {
        text: "{a|_2607_UM01PT13_UM11PT13.PEAA5     GPS P3 (x}{s|black}{a|) ,  GAL P3 (o}{s|blue}{a|)  2543Ep}",
        verticalAlign: "middle",
        rich: {
          a: { fontFamily: FONT, fontSize: 30, fontWeight: "bold", fill: BLACK, lineHeight: 42 },
          s: { fontFamily: FONT, fontSize: 20, fontWeight: "bold", fill: BLACK, verticalAlign: "bottom", lineHeight: 20 }
        }
      }
    },
    {
      type: "text", x: 203, y: 1372, silent: true,
      style: {
        text: "Max Smoothing Residual: " + maxResidual.map(function (v) { return v.toFixed(3); }).join("") +
          "  Sigma= " + sigmaNs.toFixed(3) + "ns",
        font: "bold 25px " + FONT, fill: BLACK, verticalAlign: "middle"
      }
    },
    {
      type: "text", x: 216, y: 1540, silent: true,
      style: { text: "\u03c4 = " + tauSec[0] + "s", font: "bold 16px " + FONT, fill: BLACK, verticalAlign: "middle" }
    }
  ]
};

var chart = echarts.init(document.getElementById("main"));
chart.setOption(option);
</script>
</body>
</html>
